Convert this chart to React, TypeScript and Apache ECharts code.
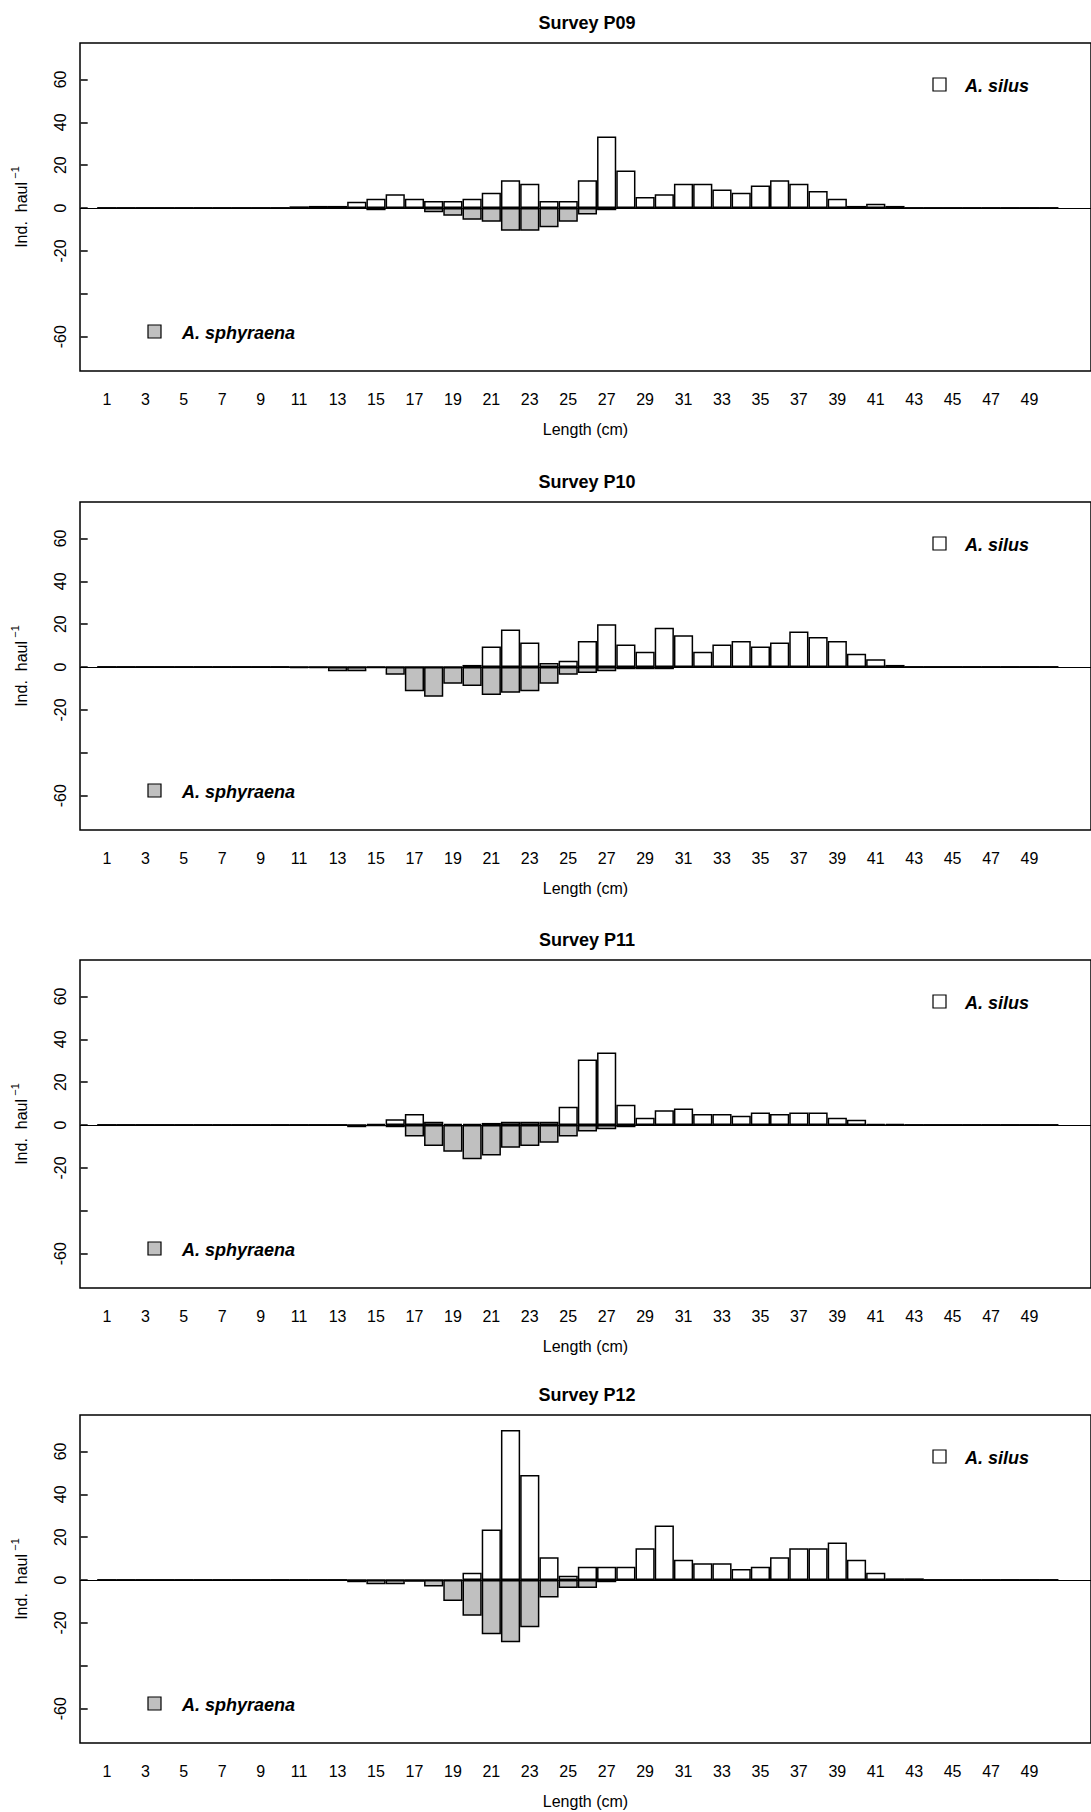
import { useEffect, useRef } from 'react';
import * as echarts from 'echarts';

// lengths 1..50 cm
const lengths = Array.from({ length: 50 }, (_, i) => i + 1);
const surveys = ['Survey P09', 'Survey P10', 'Survey P11', 'Survey P12'];
const yTicks = [-60, -40, -20, 0, 20, 40, 60];
const yLabels = [-60, -20, 0, 20, 40, 60];
const xLabels = [1, 3, 5, 7, 9, 11, 13, 15, 17, 19, 21, 23, 25, 27, 29, 31, 33, 35, 37, 39, 41, 43, 45, 47, 49];

// A. silus (positive), lengths 1..50
const silusP09 = [0, 0, 0, 0, 0, 0, 0, 0, 0, 0, 0.8, 1, 1, 3, 4.4, 6.4, 4.4, 3.3, 3.3, 4.4, 7.2, 13, 11.4, 3.3, 3.3, 13, 33.4, 17.5, 5.2, 6.4, 11.4, 11.4, 8.7, 7.2, 10.5, 13, 11.4, 8, 4.4, 1, 2, 1, 0, 0, 0, 0, 0, 0, 0, 0];
const silusP10 = [0, 0, 0, 0, 0, 0, 0, 0, 0, 0, 0, 0, 0, 0, 0, 0, 0, 0, 0, 1, 9.6, 17.5, 11.5, 1.9, 2.9, 12.2, 20, 10.5, 7.1, 18.3, 14.9, 7.1, 10.5, 12.2, 9.6, 11.5, 16.6, 14, 12.2, 6.2, 3.6, 1, 0, 0, 0, 0, 0, 0, 0, 0];
const silusP11 = [0, 0, 0, 0, 0, 0, 0, 0, 0, 0, 0, 0, 0, 0, 0.5, 2.7, 5.2, 1.6, 0.5, 0.5, 1, 1.5, 1.5, 1.5, 8.6, 30.6, 33.9, 9.5, 3.4, 6.9, 7.7, 5.2, 5.2, 4.4, 5.9, 5.2, 5.9, 5.9, 3.4, 2.5, 0.5, 0.5, 0, 0, 0, 0, 0, 0, 0, 0];
const silusP12 = [0, 0, 0, 0, 0, 0, 0, 0, 0, 0, 0, 0, 0, 0, 0, 0, 0, 0, 0, 3.4, 23.6, 70, 49, 10.6, 2, 6.2, 6.2, 6.2, 14.8, 25.5, 9.5, 7.8, 7.8, 5.2, 6.2, 10.6, 14.8, 14.8, 17.5, 9.5, 3.4, 0.8, 0.8, 0, 0, 0, 0, 0, 0, 0];

// A. sphyraena (negative), lengths 1..50
const sphyP09 = [0, 0, 0, 0, 0, 0, 0, 0, 0, 0, 0, 0, 0, 0, -1, 0, 0, -2, -3.6, -5.5, -6.4, -10.6, -10.6, -8.9, -6.4, -3, -1, 0, 0, 0, 0, 0, 0, 0, 0, 0, 0, 0, 0, 0, 0, 0, 0, 0, 0, 0, 0, 0, 0, 0];
const sphyP10 = [0, 0, 0, 0, 0, 0, 0, 0, 0, 0, -0.5, -0.5, -1.9, -1.9, -0.5, -3.6, -11.3, -13.8, -7.8, -8.8, -13, -12, -11.3, -7.8, -3.6, -2.8, -1.9, -1, -1, -1, 0, 0, 0, 0, 0, 0, 0, 0, 0, 0, 0, 0, 0, 0, 0, 0, 0, 0, 0, 0];
const sphyP11 = [0, 0, 0, 0, 0, 0, 0, 0, 0, 0, 0, 0, 0, -1, -0.5, -1, -5.3, -9.8, -12.5, -16, -14.2, -10.6, -9.8, -8.3, -5.3, -3, -2, -1, 0, 0, 0, 0, 0, 0, 0, 0, 0, 0, 0, 0, 0, 0, 0, 0, 0, 0, 0, 0, 0, 0];
const sphyP12 = [0, 0, 0, 0, 0, 0, 0, 0, 0, 0, 0, 0, 0, -1, -2, -2, -0.8, -3, -9.8, -16.7, -25.3, -29, -22, -8.1, -3.7, -3.7, -1, 0, 0, 0, 0, 0, 0, 0, 0, 0, 0, 0, 0, 0, 0, 0, 0, 0, 0, 0, 0, 0, 0, 0];

const silusAll = [silusP09, silusP10, silusP11, silusP12];
const sphyAll = [sphyP09, sphyP10, sphyP11, sphyP12];

const FONT = 'Liberation Sans, Arial, sans-serif';
const gridTops = [43, 502, 960, 1415];
const gridH = 328;

const App: React.FC = () => {
  const chartRef = useRef<HTMLDivElement | null>(null);

  useEffect(() => {
    if (!chartRef.current) return;
    const chart = echarts.init(chartRef.current, null, { renderer: 'svg' });

    const grid: any[] = [];
    const xAxis: any[] = [];
    const yAxis: any[] = [];
    const series: any[] = [];
    const title: any[] = [];
    const graphic: any[] = [];

    gridTops.forEach((top, i) => {
      grid.push({ left: 80, right: -2, top, height: gridH, show: true, borderColor: '#000', borderWidth: 1.5, backgroundColor: 'transparent' });
      title.push({
        text: surveys[i], left: 582, top: top - 34, textAlign: 'center',
        textStyle: { fontFamily: FONT, fontSize: 18, fontWeight: 'bold', color: '#000' },
      });
      xAxis.push({
        type: 'value', gridIndex: i, min: -0.4, max: 52.2,
        axisLine: { show: false }, axisTick: { show: false }, splitLine: { show: false },
        axisLabel: { customValues: xLabels, margin: 20, fontFamily: FONT, fontSize: 16, color: '#000' },
        name: 'Length (cm)', nameLocation: 'middle', nameGap: 50,
        nameTextStyle: { fontFamily: FONT, fontSize: 16, color: '#000' },
      });
      yAxis.push({
        type: 'value', gridIndex: i, min: -76, max: 77,
        axisLine: { show: false }, splitLine: { show: false },
        axisTick: { show: true, customValues: yTicks, length: 7, lineStyle: { color: '#000', width: 1.5 } },
        axisLabel: { customValues: yLabels, rotate: 90, margin: 12, fontFamily: FONT, fontSize: 16, color: '#000' },
        name: '{n|Ind.  haul} {s|−1}', nameLocation: 'middle', nameGap: 46, nameRotate: 90,
        nameTextStyle: {
          rich: {
            n: { fontFamily: FONT, fontSize: 16, color: '#000' },
            s: { fontFamily: FONT, fontSize: 11, color: '#000', verticalAlign: 'top', padding: [0, 0, 14, 0] },
          },
        },
      });
      const xy = (arr: number[]) => arr.map((v, k) => [lengths[k], v]);
      series.push({
        type: 'bar', name: 'A. silus', xAxisIndex: i, yAxisIndex: i, data: xy(silusAll[i]),
        barWidth: 19.2, barGap: '-100%',
        itemStyle: { color: '#fff', borderColor: '#000', borderWidth: 1.5 },
        markLine: {
          symbol: 'none', silent: true, label: { show: false },
          lineStyle: { color: '#000', width: 1, type: 'solid' },
          data: [{ yAxis: 0 }],
        },
      });
      series.push({
        type: 'bar', name: 'A. sphyraena', xAxisIndex: i, yAxisIndex: i, data: xy(sphyAll[i]),
        barWidth: 19.2, barGap: '-100%',
        itemStyle: { color: '#c0c0c0', borderColor: '#000', borderWidth: 1.5 },
      });
      const legendText = { fontFamily: FONT, fontSize: 18, fontWeight: 'bold', fontStyle: 'italic', fill: '#000', verticalAlign: 'middle' };
      graphic.push(
        { type: 'rect', shape: { x: 933, y: top + 35, width: 13, height: 13 }, style: { fill: '#fff', stroke: '#000', lineWidth: 1.2 } },
        { type: 'text', x: 965, y: top + 43, style: { ...legendText, text: 'A. silus' } },
        { type: 'rect', shape: { x: 148, y: top + 282, width: 13, height: 13 }, style: { fill: '#c0c0c0', stroke: '#000', lineWidth: 1.2 } },
        { type: 'text', x: 182, y: top + 290, style: { ...legendText, text: 'A. sphyraena' } },
      );
    });

    chart.setOption({
      animation: false,
      backgroundColor: '#fff',
      title, grid, xAxis, yAxis, series, graphic,
    });

    return () => {
      chart.dispose();
    };
  }, []);

  return (
    <div
      ref={chartRef}
      style={{ position: 'absolute', left: 0, top: 0, width: '1091px', height: '1812px' }}
    />
  );
};

export default App;
